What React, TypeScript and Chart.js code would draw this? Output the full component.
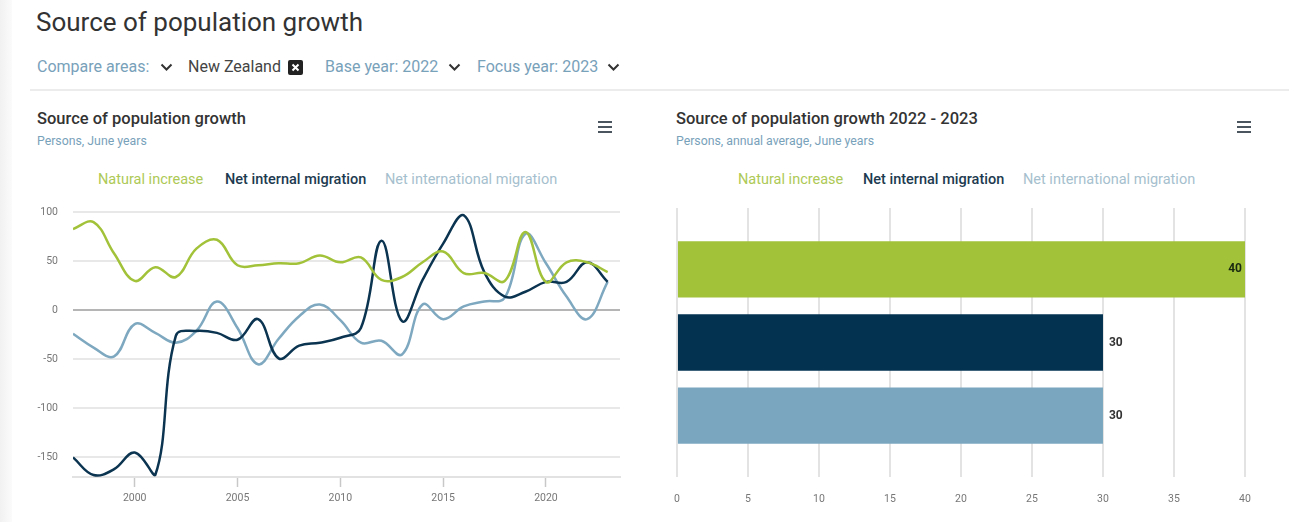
import React, { useEffect, useRef } from "react";
import { Chart, registerables } from "chart.js";

Chart.register(...registerables);

const years = [1997, 1998, 1999, 2000, 2001, 2002, 2003, 2004, 2005, 2006, 2007, 2008, 2009, 2010, 2011, 2012, 2013, 2014, 2015, 2016, 2017, 2018, 2019, 2020, 2021, 2022, 2023];
const naturalIncrease = [83, 90, 58, 30, 44, 34, 63, 72, 46, 46, 48, 48, 56, 49, 54, 31, 34, 49, 60, 38, 38, 30, 80, 29, 49, 49, 39];
const netInternal = [-150, -168, -162, -145, -168, -26, -21, -23, -30, -9, -49, -36, -33, -28, -18, 71, -11, 31, 68, 97, 39, 14, 19, 29, 29, 49, 29];
const netInternational = [-24, -38, -47, -14, -23, -33, -21, 9, -18, -55, -29, -6, 6, -10, -33, -31, -45, 6, -9, 4, 9, 13, 78, 48, 14, -9, 29];

const seriesNames = ["Natural increase", "Net internal migration", "Net international migration"];
const barCategory = ["2022 - 2023"];
const barNatural = [40];
const barInternal = [30];
const barInternational = [30];

const yTicks = [100, 50, 0, -50, -100, -150];
const xTicks = [2000, 2005, 2010, 2015, 2020];
const barTicks = [0, 5, 10, 15, 20, 25, 30, 35, 40];

const GREEN = "#a2c23a";
const DARK = "#0b3451";
const LIGHT = "#7ea8bf";
const FONT = "Roboto, 'Noto Sans', sans-serif";

const legendColors = ["#adc956", "#1d3a50", "#a6bfce"];

function Chevron({ left, top }: { left: number; top: number }) {
  return (
    <svg style={{ position: "absolute", left, top }} width={13} height={9}>
      <polyline points="1.5,1.5 6.5,6.5 11.5,1.5" stroke="#333" strokeWidth={2} fill="none" />
    </svg>
  );
}

function Burger({ left, top }: { left: number; top: number }) {
  const bar = (t: number) => (
    <div style={{ position: "absolute", left: 0, top: t, width: 14, height: 2, background: "#4a5560" }} />
  );
  return (
    <div style={{ position: "absolute", left, top, width: 14, height: 12 }}>
      {bar(0)}
      {bar(5)}
      {bar(10)}
    </div>
  );
}

function Legend({ positions }: { positions: number[] }) {
  return (
    <>
      {seriesNames.map((n, i) => (
        <div
          key={n}
          style={{
            position: "absolute",
            left: positions[i],
            top: 171,
            fontSize: 14.5,
            lineHeight: "18px",
            color: legendColors[i],
            fontWeight: i === 1 ? 500 : 400,
            whiteSpace: "nowrap",
          }}
        >
          {n}
        </div>
      ))}
    </>
  );
}

const valueLabels = {
  id: "valueLabels",
  afterDatasetsDraw(chart: any) {
    const ctx = chart.ctx;
    const area = chart.chartArea;
    ctx.save();
    ctx.font = `bold 12px ${FONT}`;
    ctx.textBaseline = "middle";
    chart.data.datasets.forEach((ds: any, di: number) => {
      const meta = chart.getDatasetMeta(di);
      meta.data.forEach((el: any, i: number) => {
        const txt = String(ds.data[i]);
        const w = ctx.measureText(txt).width;
        if (el.x + 6 + w > area.right) {
          ctx.textAlign = "right";
          ctx.fillStyle = "#1a2a10";
          ctx.fillText(txt, el.x - 3, el.y);
        } else {
          ctx.textAlign = "left";
          ctx.fillStyle = "#333";
          ctx.fillText(txt, el.x + 6, el.y);
        }
      });
    });
    ctx.restore();
  },
};

export default function App() {
  const lineRef = useRef<HTMLCanvasElement>(null);
  const barRef = useRef<HTMLCanvasElement>(null);

  useEffect(() => {
    const mk = (vals: number[]) => years.map((y, i) => ({ x: y, y: vals[i] }));
    const lineChart = new Chart(lineRef.current!, {
      type: "line",
      data: {
        datasets: [
          { label: seriesNames[0], data: mk(naturalIncrease), borderColor: GREEN, borderWidth: 2.5, pointRadius: 0, tension: 0.4 },
          { label: seriesNames[1], data: mk(netInternal), borderColor: DARK, borderWidth: 2.5, pointRadius: 0, tension: 0.4 },
          { label: seriesNames[2], data: mk(netInternational), borderColor: LIGHT, borderWidth: 2.5, pointRadius: 0, tension: 0.4 },
        ],
      },
      options: {
        animation: false,
        responsive: false,
        maintainAspectRatio: false,
        layout: { padding: { top: 2, right: 10, left: 0, bottom: 0 } },
        plugins: { legend: { display: false }, tooltip: { enabled: false } },
        scales: {
          x: {
            type: "linear",
            min: 1997,
            max: 2023.6,
            afterBuildTicks: (s: any) => {
              s.ticks = xTicks.map((v) => ({ value: v }));
            },
            afterFit: (s: any) => {
              s.height = 43;
            },
            ticks: { color: "#777", font: { family: FONT, size: 10.5 }, padding: 5, callback: (v: any) => String(v) },
            grid: { drawOnChartArea: false, drawTicks: true, tickLength: 10, tickColor: "#c8c8c8", tickWidth: 1.5 },
            border: { display: true, color: "#e2e2e2", width: 2 },
          },
          y: {
            min: -170,
            max: 100,
            afterBuildTicks: (s: any) => {
              s.ticks = yTicks.map((v) => ({ value: v }));
            },
            afterFit: (s: any) => {
              s.width = 53;
            },
            ticks: { color: "#777", font: { family: FONT, size: 10.5 }, padding: 15 },
            grid: {
              drawTicks: false,
              lineWidth: 2,
              color: (c: any) => (c.tick && c.tick.value === 0 ? "#b5b5b5" : "#e8e8e8"),
            },
            border: { display: false },
          },
        },
      } as any,
    });

    const barChart = new Chart(barRef.current!, {
      type: "bar",
      data: {
        labels: barCategory,
        datasets: [
          { label: seriesNames[0], data: barNatural, backgroundColor: GREEN },
          { label: seriesNames[1], data: barInternal, backgroundColor: "#023250" },
          { label: seriesNames[2], data: barInternational, backgroundColor: "#7aa7bf" },
        ],
      },
      options: {
        animation: false,
        responsive: false,
        maintainAspectRatio: false,
        indexAxis: "y",
        layout: { padding: { top: 8, right: 23, left: 0, bottom: 0 } },
        datasets: { bar: { categoryPercentage: 0.815, barPercentage: 0.77 } },
        plugins: { legend: { display: false }, tooltip: { enabled: false } },
        scales: {
          y: { display: false },
          x: {
            min: 0,
            max: 40,
            afterBuildTicks: (s: any) => {
              s.ticks = barTicks.map((v) => ({ value: v }));
            },
            afterFit: (s: any) => {
              s.height = 43;
            },
            ticks: { color: "#777", font: { family: FONT, size: 10.5 }, padding: 16 },
            grid: { drawTicks: false, color: "#e3e3e3", lineWidth: 2 },
            border: { display: false },
          },
        },
      } as any,
      plugins: [valueLabels],
    });

    return () => {
      lineChart.destroy();
      barChart.destroy();
    };
  }, []);

  const lightBlue = "#78a1ba";

  return (
    <div
      style={{
        position: "absolute",
        left: 0,
        top: 0,
        width: 1289,
        height: 522,
        background: "#fff",
        fontFamily: FONT,
        overflow: "hidden",
      }}
    >
      <div style={{ position: "absolute", left: 0, top: 0, width: 12, height: 522, background: "linear-gradient(to right, #f1f1f1, #fbfbfb)" }} />
      <div style={{ position: "absolute", left: 36, top: 6, fontSize: 26, lineHeight: "32px", color: "#333", whiteSpace: "nowrap" }}>
        Source of population growth
      </div>

      <div style={{ position: "absolute", left: 37, top: 57, fontSize: 16, lineHeight: "20px", color: lightBlue, whiteSpace: "nowrap" }}>
        Compare areas:
      </div>
      <Chevron left={160} top={63} />
      <div style={{ position: "absolute", left: 188, top: 57, fontSize: 16, lineHeight: "20px", color: "#444", whiteSpace: "nowrap" }}>
        New Zealand
      </div>
      <svg style={{ position: "absolute", left: 288, top: 60 }} width={15} height={15}>
        <rect x={0} y={0} width={15} height={15} rx={2} fill="#222" />
        <path d="M4.5 4.5 L10.5 10.5 M10.5 4.5 L4.5 10.5" stroke="#fff" strokeWidth={2} />
      </svg>
      <div style={{ position: "absolute", left: 325, top: 57, fontSize: 16, lineHeight: "20px", color: lightBlue, whiteSpace: "nowrap" }}>
        Base year: 2022
      </div>
      <Chevron left={448} top={63} />
      <div style={{ position: "absolute", left: 477, top: 57, fontSize: 16, lineHeight: "20px", color: lightBlue, whiteSpace: "nowrap" }}>
        Focus year: 2023
      </div>
      <Chevron left={607} top={63} />

      <div style={{ position: "absolute", left: 30, top: 89, width: 1259, height: 2, background: "#ececec" }} />

      <div style={{ position: "absolute", left: 37, top: 109, fontSize: 16.5, lineHeight: "20px", fontWeight: 500, color: "#333", whiteSpace: "nowrap" }}>
        Source of population growth
      </div>
      <div style={{ position: "absolute", left: 37, top: 133, fontSize: 12.3, lineHeight: "16px", color: lightBlue, whiteSpace: "nowrap" }}>
        Persons, June years
      </div>
      <Burger left={598} top={121} />
      <Legend positions={[98, 225, 385]} />

      <div style={{ position: "absolute", left: 676, top: 109, fontSize: 16.5, lineHeight: "20px", fontWeight: 500, color: "#333", whiteSpace: "nowrap" }}>
        Source of population growth 2022 - 2023
      </div>
      <div style={{ position: "absolute", left: 676, top: 133, fontSize: 12.3, lineHeight: "16px", color: lightBlue, whiteSpace: "nowrap" }}>
        Persons, annual average, June years
      </div>
      <Burger left={1237} top={121} />
      <Legend positions={[738, 863, 1023]} />

      <canvas ref={lineRef} width={610} height={329} style={{ position: "absolute", left: 20, top: 191, width: 610, height: 329 }} />
      <canvas ref={barRef} width={610} height={320} style={{ position: "absolute", left: 658, top: 200, width: 610, height: 320 }} />
    </div>
  );
}
